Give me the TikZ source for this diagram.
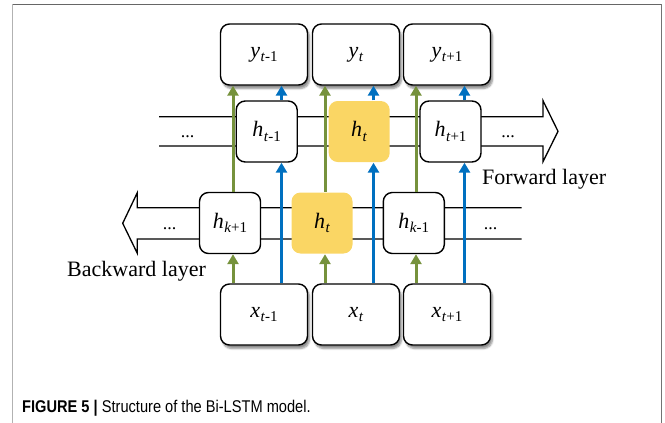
\documentclass[tikz,border=0pt]{standalone}
\usepackage{fontspec}
\setmainfont{Liberation Serif}
\newfontfamily\capfont[FakeStretch=0.86]{Liberation Sans}
\usetikzlibrary{arrows.meta,shadows.blur}

\definecolor{cellyellow}{RGB}{250,214,100}
\definecolor{fwdgreen}{RGB}{118,146,60}
\definecolor{bwdblue}{RGB}{0,112,192}

% variable with italic subscript, e.g. \vlabel{h}{t}{-1}
\newcommand\vlabel[3]{\fontsize{22}{22}\selectfont\textit{#1}\kern0.5pt\raisebox{-4.5pt}{\fontsize{15}{15}\selectfont\textit{#2}#3}}

\begin{document}
\begin{tikzpicture}[x=1pt,y=-1pt,
  iobox/.style={draw=black, line width=1.4pt, rounded corners=9pt, fill=white,
    minimum width=87pt, minimum height=61pt, inner sep=0pt,
    blur shadow={shadow xshift=2pt, shadow yshift=-3.5pt, shadow blur steps=6, shadow opacity=45}},
  cell/.style={draw=black, line width=1.4pt, rounded corners=9pt, fill=white,
    minimum width=61pt, minimum height=61pt, inner sep=0pt},
  activecell/.style={cell, draw=none, fill=cellyellow},
  band/.style={draw=black, line width=1.3pt, line join=miter},
  flow/.style={line width=3pt, -{Triangle[length=10pt,width=11pt]}},
  garrow/.style={flow, draw=fwdgreen},
  barrow/.style={flow, draw=bwdblue},
  dots/.style={inner sep=0pt, font=\fontsize{18}{18}\selectfont},
  layertext/.style={inner sep=0pt, anchor=base west, font=\fontsize{22}{22}\selectfont}]
\useasboundingbox (0,0) rectangle (665,423);

% frame
\draw[line width=1pt, draw=black!60] (12,4.5) -- (662,4.5);
\draw[line width=1pt, draw=black!30] (12.5,4) -- (12.5,423);
\draw[line width=1pt, draw=black!55] (661.5,4) -- (661.5,423);

% forward layer band (arrow to the right)
\draw[band] (159,116.7) -- (543,116.7) -- (543,100.7) -- (558,131.3)
  -- (543,161.7) -- (543,146) -- (159,146);
% backward layer band (arrow to the left)
\draw[band] (521.7,207.7) -- (137.3,207.7) -- (137.3,192.7) -- (122.7,223.3)
  -- (137.3,253.3) -- (137.3,239) -- (521.7,239);

% outputs
\node[iobox] (y1) at (264,54.5) {\vlabel{y}{t}{-1}};
\node[iobox] (y2) at (356,54.5) {\vlabel{y}{t}{}};
\node[iobox] (y3) at (447,54.5) {\vlabel{y}{t}{+1}};

% forward cells
\node[cell] (f1) at (266.7,131.5) {\vlabel{h}{t}{-1}};
\node[activecell] (f2) at (359.2,131.5) {\vlabel{h}{t}{}};
\node[cell] (f3) at (450.5,131.5) {\vlabel{h}{t}{+1}};

% backward cells
\node[cell] (b1) at (230,223) {\vlabel{h}{k}{+1}};
\node[activecell] (b2) at (322,223) {\vlabel{h}{t}{}};
\node[cell] (b3) at (413.8,223) {\vlabel{h}{k}{-1}};

% inputs
\node[iobox] (x1) at (264,314.5) {\vlabel{x}{t}{-1}};
\node[iobox] (x2) at (356,314.5) {\vlabel{x}{t}{}};
\node[iobox] (x3) at (447,314.5) {\vlabel{x}{t}{+1}};

% continuation dots
\node[dots] (fdl) at (187.5,137) {...};
\node[dots] (fdr) at (508,137) {...};
\node[dots] (bdl) at (169.5,229) {...};
\node[dots] (bdr) at (490.5,229) {...};

% layer names
\node[layertext] (fwdname) at (482,184) {Forward layer};
\node[layertext] (bwdname) at (67,276) {Backward layer};

% connections: backward path (green) and forward path (blue)
\foreach \i in {1,2,3} {
  \draw[garrow] ([xshift=-31pt]x\i.north) -- ([xshift=-31pt]x\i.north |- b\i.south);
  \draw[garrow] ([xshift=-31pt]x\i.north |- b\i.north) -- ([xshift=-31pt]x\i.north |- y\i.south);
  \draw[barrow] ([xshift=17.5pt]x\i.north) -- ([xshift=17.5pt]x\i.north |- f\i.south);
  \draw[barrow] ([xshift=17.5pt]x\i.north |- f\i.north) -- ([xshift=17.5pt]x\i.north |- y\i.south);
}

% caption
\node[inner sep=0pt, anchor=base west] (caption) at (22,412)
  {\capfont\fontsize{17}{17}\selectfont\textbf{FIGURE 5 |} Structure of the Bi-LSTM model.};
\end{tikzpicture}
\end{document}
